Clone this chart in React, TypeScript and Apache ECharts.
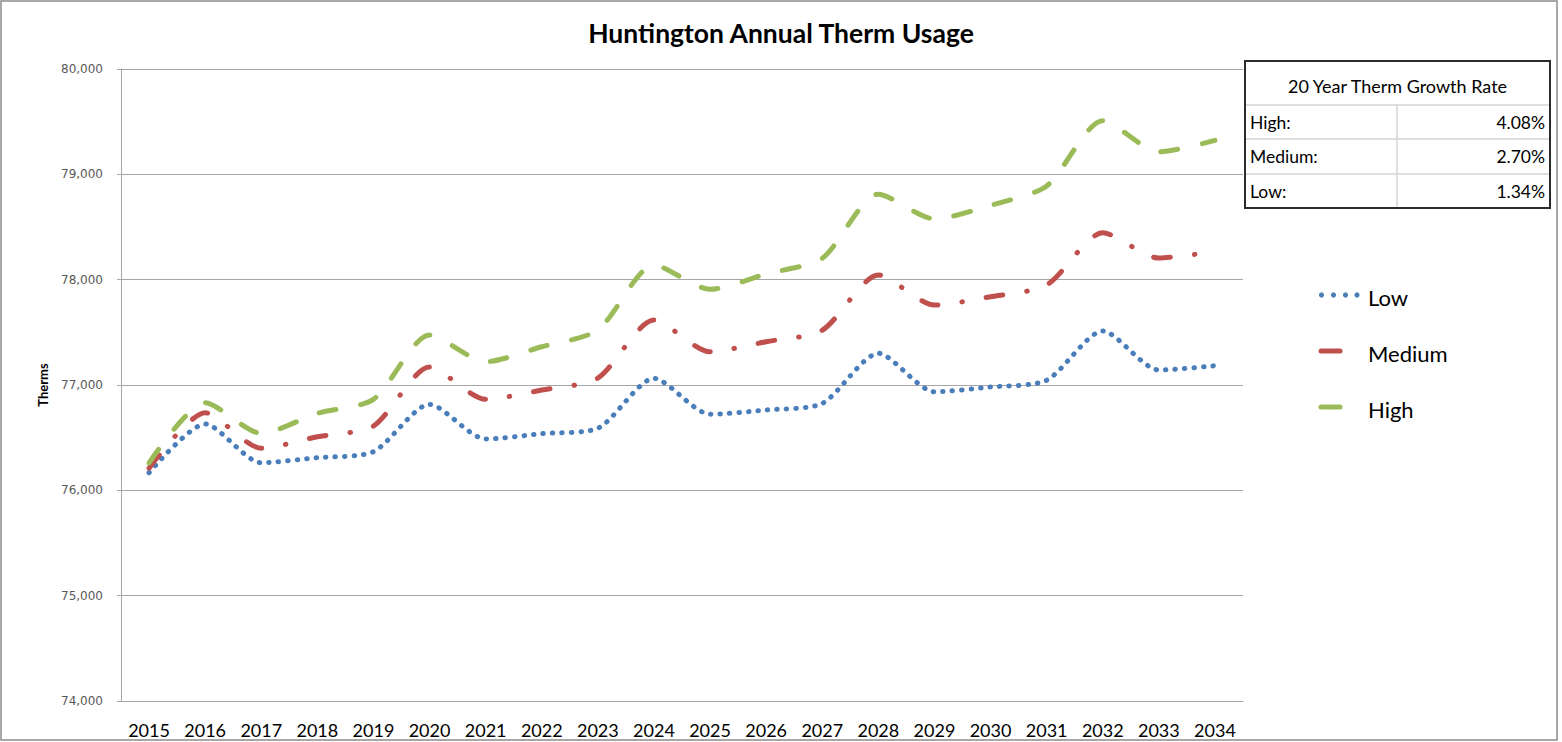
import React, { useEffect, useRef } from "react";
import * as echarts from "echarts";

const years = ["2015","2016","2017","2018","2019","2020","2021","2022","2023","2024","2025","2026","2027","2028","2029","2030","2031","2032","2033","2034"];
const lowValues = [76167,76630,76262,76310,76367,76816,76487,76538,76589,77063,76722,76763,76825,77301,76936,76981,77045,77513,77142,77183];
const mediumValues = [76210,76737,76399,76509,76610,77170,76864,76952,77065,77617,77316,77411,77520,78044,77759,77838,77949,78445,78205,78268];
const highValues = [76260,76832,76541,76731,76864,77474,77221,77363,77522,78139,77908,78054,78203,78812,78576,78705,78890,79509,79214,79322];
const tableTitle = "20 Year Therm Growth Rate";
const tableLabels = ["High:", "Medium:", "Low:"];
const tableRates = ["4.08%", "2.70%", "1.34%"];

const FONT = "Lato, 'Noto Sans', sans-serif";
const LOW_C = "#4a7ebb";
const MED_C = "#c0504d";
const HIGH_C = "#9bbb59";

export default function App() {
  const ref = useRef<HTMLDivElement>(null);
  useEffect(() => {
    if (!ref.current) return;
    const chart = echarts.init(ref.current, undefined, { renderer: "svg" });

    const tx0 = 1245, tx1 = 1550, txm = 1397;
    const rowLines = [61, 105, 139, 174, 208];
    const graphics: any[] = [
      { type: "rect", shape: { x: 1, y: 1, width: 1556, height: 739 }, style: { fill: "none", stroke: "#8c8c8c", lineWidth: 1.5 }, z: -1 },
      { type: "rect", shape: { x: tx0, y: rowLines[0], width: tx1 - tx0, height: rowLines[4] - rowLines[0] }, style: { fill: "#fff", stroke: "#2b2b2b", lineWidth: 2 }, z: 10 },
    ];
    for (let i = 1; i < 4; i++) {
      graphics.push({ type: "line", shape: { x1: tx0 + 1, y1: rowLines[i], x2: tx1 - 1, y2: rowLines[i] }, style: { stroke: "#d4d4d4", lineWidth: 1.5 }, z: 11 });
    }
    graphics.push({ type: "line", shape: { x1: txm, y1: rowLines[1], x2: txm, y2: rowLines[4] - 1 }, style: { stroke: "#d4d4d4", lineWidth: 1.5 }, z: 11 });
    graphics.push({ type: "text", x: (tx0 + tx1) / 2, y: (rowLines[0] + rowLines[1]) / 2 + 3, style: { text: tableTitle, font: `18px ${FONT}`, fill: "#000", align: "center", verticalAlign: "middle" }, z: 12 });
    for (let i = 0; i < 3; i++) {
      const cy = (rowLines[i + 1] + rowLines[i + 2]) / 2;
      graphics.push({ type: "text", x: tx0 + 5, y: cy, style: { text: tableLabels[i], font: `17.5px ${FONT}`, fill: "#000", align: "left", verticalAlign: "middle" }, z: 12 });
      graphics.push({ type: "text", x: tx1 - 5, y: cy, style: { text: tableRates[i], font: `17.5px ${FONT}`, fill: "#000", align: "right", verticalAlign: "middle" }, z: 12 });
    }
    // legend keys
    [1321.5, 1333.5, 1345.5, 1357].forEach((cx) => {
      graphics.push({ type: "circle", shape: { cx, cy: 295, r: 2.6 }, style: { fill: LOW_C }, z: 12 });
    });
    graphics.push({ type: "line", shape: { x1: 1321, y1: 351, x2: 1340, y2: 351 }, style: { stroke: MED_C, lineWidth: 5, lineCap: "round" }, z: 12 });
    graphics.push({ type: "line", shape: { x1: 1321, y1: 407, x2: 1340, y2: 407 }, style: { stroke: HIGH_C, lineWidth: 5, lineCap: "round" }, z: 12 });

    const mk = (name: string, data: number[], color: string, dash: number[]) => ({
      name,
      type: "line",
      data,
      smooth: 0.25,
      symbol: "none",
      lineStyle: { color, width: 5, type: dash, cap: "round", join: "round" },
      itemStyle: { color },
    });

    chart.setOption({
      animation: false,
      backgroundColor: "#fff",
      title: {
        text: "Huntington Annual Therm Usage",
        left: "center",
        top: 14,
        textStyle: { fontFamily: FONT, fontSize: 26.5, fontWeight: "bold", color: "#000" },
      },
      grid: { left: 121, right: 319, top: 69, bottom: 41, containLabel: false },
      legend: {
        orient: "vertical",
        left: 1318,
        top: 279,
        itemWidth: 40,
        itemHeight: 14,
        itemGap: 30,
        icon: "none",
        selectedMode: false,
        textStyle: { fontFamily: FONT, fontSize: 22, color: "#000", lineHeight: 26 },
        data: ["Low", "Medium", "High"],
      },
      xAxis: {
        type: "category",
        data: years,
        boundaryGap: true,
        axisLine: { lineStyle: { color: "#a6a6a6", width: 1 } },
        axisTick: { show: false },
        axisLabel: { fontFamily: FONT, fontSize: 18, color: "#000", margin: 20 },
      },
      yAxis: {
        type: "value",
        min: 74000,
        max: 80000,
        interval: 1000,
        name: "Therms",
        nameLocation: "middle",
        nameGap: 72,
        nameTextStyle: { fontFamily: FONT, fontSize: 13, fontWeight: "bold", color: "#000" },
        axisLine: { show: true, lineStyle: { color: "#a6a6a6", width: 1 } },
        axisTick: { show: true, length: 4, lineStyle: { color: "#a6a6a6" } },
        splitLine: { lineStyle: { color: "#a6a6a6", width: 1 } },
        axisLabel: {
          fontFamily: "'DejaVu Sans', sans-serif",
          fontSize: 12,
          color: "#595959",
          margin: 18,
          formatter: (v: number) => v.toLocaleString("en-US"),
        },
      },
      graphic: graphics,
      series: [
        mk("Low", lowValues, LOW_C, [0.5, 9]),
        mk("Medium", mediumValues, MED_C, [17, 24, 0.5, 24]),
        mk("High", highValues, HIGH_C, [17, 25]),
      ],
    });
    return () => chart.dispose();
  }, []);
  return <div ref={ref} style={{ position: "fixed", left: 0, top: 0, width: 1562, height: 742 }} />;
}
